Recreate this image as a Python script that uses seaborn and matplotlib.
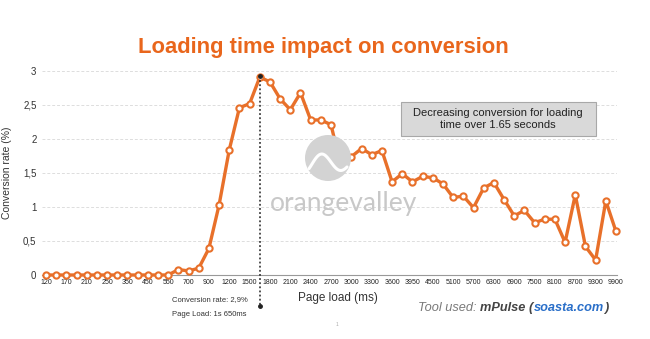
import matplotlib
matplotlib.use("Agg")
import matplotlib.pyplot as plt
import matplotlib.patches as mpatches
import numpy as np
import pandas as pd
import seaborn as sns

# ---- data ----
tick_labels = ["120", "170", "210", "250", "350", "450", "550", "700", "900", "1200",
               "1500", "1800", "2100", "2400", "2700", "3000", "3300", "3600", "3950",
               "4500", "5100", "5700", "6300", "6900", "7500", "8100", "8700", "9300", "9900"]
conversion = [0, 0, 0, 0, 0, 0, 0, 0, 0, 0, 0, 0, 0,
              0.08, 0.06, 0.10, 0.39, 1.03, 1.84, 2.46, 2.52, 2.91, 2.84, 2.59, 2.43,
              2.68, 2.28, 2.28, 2.21, 1.58, 1.74, 1.86, 1.77, 1.83, 1.37, 1.49, 1.37,
              1.45, 1.43, 1.34, 1.14, 1.16, 0.99, 1.28, 1.36, 1.11, 0.87, 0.95, 0.77,
              0.82, 0.82, 0.48, 1.18, 0.42, 0.22, 1.09, 0.64]
y_ticks = [0, 0.5, 1, 1.5, 2, 2.5, 3]
y_tick_labels = ["0", "0,5", "1", "1,5", "2", "2,5", "3"]
peak_index = 21

df = pd.DataFrame({"pos": np.arange(len(conversion)), "conv": conversion})

ORANGE = "#e8702a"
TITLE_ORANGE = "#e9661c"
W, H = 650, 339

def fx(px):
    return px / W

def fy(py):
    return 1 - py / H

sns.set_theme(style="white")
plt.rcParams["font.family"] = ["Liberation Sans", "DejaVu Sans"]

fig = plt.figure(figsize=(6.5, 3.39), dpi=100)
ax = fig.add_axes([fx(42), fy(275), (617 - 42) / W, (275 - 71) / H])

# watermark logo (behind data)
circ = mpatches.Ellipse((fx(328), fy(158)), 46 / W, 46 / H, transform=fig.transFigure,
                        facecolor="#d3d3d3", edgecolor="none", zorder=0)
fig.patches.append(circ)
tt = np.linspace(0, 1, 60)
wx = 309 + tt * 38
wy = 163 - 10 * np.sin(tt * 2 * np.pi - 0.6) * (1 - 0.3 * tt)
fig.add_artist(plt.Line2D(fx(wx), fy(wy), transform=fig.transFigure,
                          color="white", lw=2.2, zorder=0.5))
fig.text(fx(344), fy(203), "orangevalley", color="#c8c8c8", fontsize=19,
         ha="center", va="center", family="Lato", zorder=0)

ax.set_facecolor("none")
sns.lineplot(data=df, x="pos", y="conv", ax=ax, color=ORANGE, linewidth=2.4,
             marker="o", markersize=4.5, markerfacecolor="white",
             markeredgecolor=ORANGE, markeredgewidth=1.5, clip_on=False, zorder=5)

ax.set_ylim(0, 3)
ax.set_xlim(-0.4, len(conversion) - 0.9)
ax.set_yticks(y_ticks)
ax.set_yticklabels(y_tick_labels, fontsize=7, color="#333333")
ax.set_xticks(np.arange(0, len(conversion), 2))
ax.set_xticklabels(tick_labels, fontsize=5, color="#222222")
ax.tick_params(axis="both", length=0, pad=3)
ax.tick_params(axis="y", pad=4)
ax.grid(axis="y", color="#dddddd", linestyle=(0, (3, 2)), linewidth=0.7)
ax.grid(axis="x", visible=False)
for s in ["top", "right", "left"]:
    ax.spines[s].set_visible(False)
ax.spines["bottom"].set_color("#999999")
ax.spines["bottom"].set_linewidth(0.8)
ax.set_xlabel("Page load (ms)", fontsize=8.5, color="#333333")
ax.xaxis.set_label_coords((338 - 42) / 575, -(292 - 275) / 204)
ax.set_ylabel("Conversion rate (%)", fontsize=7.5, color="#333333")
ax.yaxis.set_label_coords(-(42 - 12) / 575, 0.5)

# peak annotation
peak_val = conversion[peak_index]
ax.plot([peak_index, peak_index], [peak_val + 0.02, -0.46], color="#222222",
        linestyle=(0, (1.2, 1.5)), linewidth=1.1, clip_on=False, zorder=6)
ax.plot([peak_index], [peak_val + 0.02], "o", color="#222222", markersize=2.5,
        clip_on=False, zorder=7)
ax.plot([peak_index], [-0.46], "o", color="#222222", markersize=2.5,
        clip_on=False, zorder=7)
fig.text(fx(172), fy(300), "Conversion rate: 2,9%", fontsize=5.5,
         color="#333333", va="center", ha="left")
fig.text(fx(172), fy(314), "Page Load: 1s 650ms", fontsize=5.5,
         color="#333333", va="center", ha="left")

# title
fig.text(fx(323), fy(47), "Loading time impact on conversion", fontsize=15.8,
         fontweight="bold", color=TITLE_ORANGE, ha="center", va="center")

# box
box = mpatches.Rectangle((fx(401), fy(136)), 195 / W, 34 / H, transform=fig.transFigure,
                         facecolor="#d9d9d9", edgecolor="#a8a8a8", linewidth=0.8,
                         zorder=8)
fig.patches.append(box)
fig.text(fx(498), fy(119), "Decreasing conversion for loading\ntime over 1.65 seconds",
         fontsize=8, color="#222222", ha="center", va="center", linespacing=1.25,
         zorder=9)

# tool used
y_tool = fy(308)
fig.canvas.draw()
r = fig.canvas.get_renderer()

def put(x, s, **kw):
    t = fig.text(x, y_tool, s, fontsize=9.2, va="center", ha="left", style="italic", **kw)
    return t.get_window_extent(r).x1 / fig.bbox.width

x = put(fx(418), "Tool used: ", color="#7a7a7a")
x = put(x, "mPulse ", color="#444444", fontweight="bold")
x = put(x, "(", color="#444444", fontweight="bold")
x = put(x + 0.5 / W, "soasta.com", color="#2a6fc9", fontweight="bold")
put(x, ")", color="#444444", fontweight="bold")

fig.text(fx(337), fy(325), "1", fontsize=3.5, color="#aaaaaa",
         ha="center", va="center")

fig.savefig("out.png", dpi=100)
